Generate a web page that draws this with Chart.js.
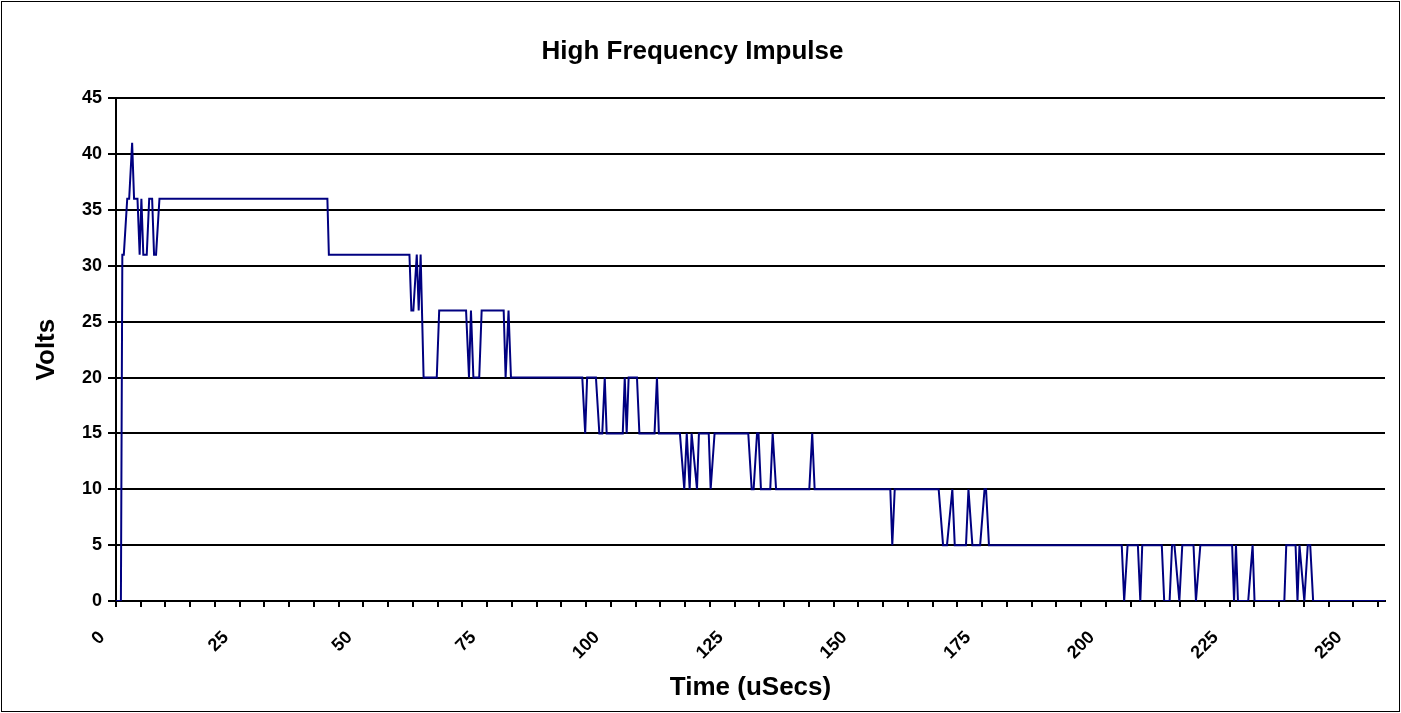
<!DOCTYPE html>
<html>
<head>
<meta charset="utf-8">
<script src="https://cdn.jsdelivr.net/npm/chart.js@4/dist/chart.umd.min.js"></script>
<style>
  html, body { margin: 0; padding: 0; background: #fff; }
  #wrap { width: 1401px; height: 713px; }
</style>
</head>
<body>
<div id="wrap"><canvas id="impulseChart" width="1401" height="713"></canvas></div>
<script>
// vertices of the trace (time in uSecs, volts)
const timeUs = [
  0, 0.99, 1.28, 1.58, 2.27, 2.66, 3.26, 3.65, 4.34, 4.78, 5.13, 5.52, 6.21, 6.71, 7.30, 7.69, 8.09, 8.78,
  42.71, 43.01, 59.29, 59.68, 60.08, 60.77, 61.16, 61.55, 62.15, 64.81, 65.30, 70.73, 71.32, 71.72, 72.21,
  73.39, 73.88, 78.33, 78.72, 79.31, 79.80, 94.21, 94.80, 95.19, 96.97, 97.66, 98.25, 98.75, 99.14,
  102.39, 102.79, 103.18, 103.58, 105.26, 105.75, 108.81, 109.30, 109.69, 113.94, 114.82, 115.32,
  115.91, 116.30, 117.39, 117.78, 119.76, 120.15, 120.94, 127.75, 128.44, 128.83, 129.52, 129.82,
  130.31, 132.19, 132.68, 133.37, 140.08, 140.67, 141.16, 156.45, 156.85, 157.34, 166.22, 167.11,
  167.90, 168.98, 169.47, 171.74, 172.24, 173.03, 174.60, 175.49, 175.79, 176.38, 203.21, 203.70,
  204.39, 206.47, 206.96, 207.35, 211.30, 211.79, 212.88, 213.37, 213.86, 214.85, 215.44, 217.71,
  218.20, 219.09, 225.51, 225.90, 226.29, 226.69, 228.76, 229.65, 230.04, 236.06, 236.45, 238.33,
  238.72, 239.12, 240.10, 240.79, 241.29, 241.88, 256.4
];
const volts = [
  0, 0, 31, 31, 36, 36, 41, 36, 36, 31, 36, 31, 31, 36, 36, 31, 31, 36,
  36, 31, 31, 26, 26, 31, 26, 31, 20, 20, 26, 26, 20, 26, 20,
  20, 26, 26, 20, 26, 20, 20, 15, 20, 20, 15, 15, 20, 15,
  15, 20, 15, 20, 20, 15, 15, 20, 15, 15, 10, 15,
  10, 15, 10, 15, 15, 10, 15, 15, 10, 10, 15, 15,
  10, 10, 15, 10, 10, 15, 10, 10, 5, 10, 10, 5,
  5, 10, 5, 5, 10, 5, 5, 10, 10, 5, 5, 0,
  5, 5, 0, 5, 5, 0, 0, 5, 5, 0, 5, 5,
  0, 5, 5, 0, 5, 0, 0, 5, 0, 0, 5, 5,
  0, 5, 0, 5, 5, 0, 0
];
const yTicks = [0, 5, 10, 15, 20, 25, 30, 35, 40, 45];
const xMax = 256.4;
const xMinorStep = 5;
const xLabelEvery = 25;

const font = "'Liberation Sans', Arial, sans-serif";

const frame = {
  id: "frame",
  afterDraw(chart) {
    const c = chart.ctx;
    c.save();
    c.strokeStyle = "#000";
    c.lineWidth = 1;
    c.strokeRect(1.5, 1.5, chart.width - 3, chart.height - 3);
    c.restore();
  },
};

const ctx = document.getElementById("impulseChart").getContext("2d");
new Chart(ctx, {
  type: "line",
  data: {
    datasets: [
      {
        label: "Volts",
        data: timeUs.map((t, i) => ({ x: t, y: volts[i] })),
        borderColor: "#000080",
        borderWidth: 2,
        pointRadius: 0,
        tension: 0,
        fill: false,
      },
    ],
  },
  options: {
    responsive: false,
    animation: false,
    layout: { padding: { left: 0, right: 16, top: 0, bottom: 0 } },
    plugins: {
      legend: { display: false },
      tooltip: { enabled: false },
      title: {
        display: true,
        text: "High Frequency Impulse",
        color: "#000",
        font: { family: font, size: 26, weight: "bold" },
        padding: { top: 36, bottom: 31 },
      },
    },
    scales: {
      x: {
        type: "linear",
        min: 0,
        max: xMax,
        afterFit: (s) => {
          s.height = 112;
          s.paddingLeft = 0;
          s.paddingRight = 0;
        },
        border: { display: true, color: "#000", width: 2 },
        grid: { drawOnChartArea: false, drawTicks: true, tickLength: 6, color: "#000", lineWidth: 2 },
        ticks: {
          stepSize: xMinorStep,
          includeBounds: false,
          autoSkip: false,
          minRotation: 45,
          maxRotation: 45,
          padding: 20,
          labelOffset: -14,
          color: "#000",
          font: { family: font, size: 18, weight: "bold" },
          callback: (v) => (v % xLabelEvery === 0 ? v : ""),
        },
        title: {
          display: true,
          text: "Time (uSecs)",
          color: "#000",
          font: { family: font, size: 26, weight: "bold" },
          padding: { top: 0, bottom: 10 },
        },
      },
      y: {
        min: yTicks[0],
        max: yTicks[yTicks.length - 1],
        afterFit: (s) => { s.width = 116; },
        afterBuildTicks: (s) => { s.ticks = yTicks.map((v) => ({ value: v })); },
        border: { display: true, color: "#000", width: 2 },
        grid: { color: "#000", lineWidth: 2, tickLength: 8 },
        ticks: {
          padding: 6,
          color: "#000",
          font: { family: font, size: 18, weight: "bold" },
        },
        title: {
          display: true,
          text: "Volts",
          color: "#000",
          font: { family: font, size: 26, weight: "bold" },
          padding: { top: 31, bottom: 0 },
        },
      },
    },
  },
  plugins: [frame],
});
</script>
</body>
</html>
